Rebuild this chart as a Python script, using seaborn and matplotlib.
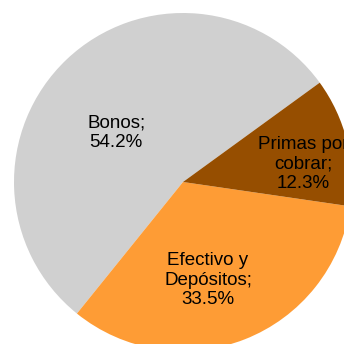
import matplotlib
matplotlib.use("Agg")
import matplotlib.pyplot as plt
import seaborn as sns

categories = ["Bonos", "Efectivo y\nDepósitos", "Primas por\ncobrar"]
values = [54.2, 33.5, 12.3]
colors = ["#d0d0d0", "#fe9c35", "#964e00"]
label_pos = [(-0.396, 0.29), (0.148, -0.58), (0.71, 0.107)]

sns.set_style("white")
plt.rcParams['font.family'] = ['Liberation Sans', 'DejaVu Sans']

fig = plt.figure(figsize=(3.44, 3.44), dpi=100)
ax = fig.add_axes([0, 0, 1, 1])
ax.pie(values, colors=colors, startangle=36, counterclock=True,
       wedgeprops=dict(linewidth=0, edgecolor="none"))
for cat, v, (x, y) in zip(categories, values, label_pos):
    ax.text(x, y, f"{cat};\n{v:.1f}%", ha="center", va="center",
            fontsize=13.5, color="#000000", linespacing=1.2)
ax.set_xlim(-183/169, (344-183)/169)
ax.set_ylim(-(344-182)/169, 182/169)
ax.set_aspect("auto")
ax.axis("off")
fig.savefig("out.png", dpi=100)
